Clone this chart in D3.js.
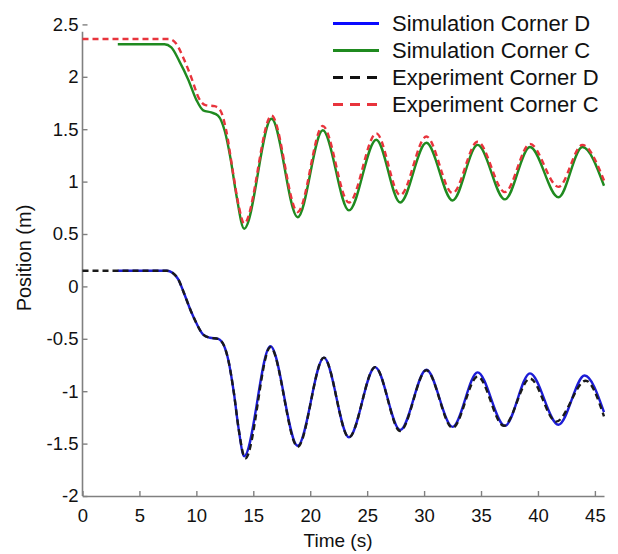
<!DOCTYPE html>
<html>
<head>
<meta charset="utf-8">
<script src="https://cdn.jsdelivr.net/npm/d3@7"></script>
<style>
  html, body { margin: 0; padding: 0; background: #fff; }
  svg { display: block; font-family: "Liberation Sans", Arial, sans-serif; }
</style>
</head>
<body>
<svg id="chart" width="618" height="554"></svg>
<script>
// Vertical position of two corners (C and D) over time: simulation vs experiment
const seriesNames = ["Simulation Corner D", "Simulation Corner C", "Experiment Corner D", "Experiment Corner C"];

// Simulation, corner D
const simDTime = [3.1, 7.4, 7.9, 8.4, 8.9, 9.5, 10.0, 10.6, 11.2, 11.9, 12.4, 12.8, 13.3, 13.7, 14.2,
                  16.5, 18.9, 21.2, 23.4, 25.7, 27.9, 30.2, 32.5, 34.7, 37.1, 39.3, 41.8, 44.1, 45.8];
const simDPos  = [0.15, 0.15, 0.13, 0.07, -0.06, -0.23, -0.35, -0.46, -0.49, -0.50, -0.56, -0.70, -1.02, -1.35, -1.62,
                  -0.57, -1.52, -0.68, -1.44, -0.77, -1.37, -0.795, -1.34, -0.82, -1.33, -0.83, -1.32, -0.85, -1.20];

// Simulation, corner C
const simCTime = [3.1, 7.2, 7.8, 8.5, 9.3, 10.0, 10.6, 11.3, 11.9, 12.5, 13.0, 13.5, 14.2,
                  16.6, 18.9, 21.1, 23.4, 25.8, 27.9, 30.2, 32.5, 34.7, 37.1, 39.3, 41.8, 43.9, 45.8];
const simCPos  = [2.31, 2.31, 2.28, 2.15, 1.97, 1.78, 1.68, 1.66, 1.63, 1.48, 1.22, 0.88, 0.55,
                  1.60, 0.66, 1.49, 0.725, 1.40, 0.80, 1.37, 0.82, 1.35, 0.83, 1.33, 0.85, 1.33, 0.96];

// Experiment, corner D
const expDTime = [0, 7.4, 7.9, 8.4, 8.9, 9.5, 10.0, 10.6, 11.2, 11.9, 12.4, 12.8, 13.3, 13.7, 14.3,
                  16.5, 18.9, 21.2, 23.4, 25.7, 27.9, 30.2, 32.5, 34.7, 37.0, 39.3, 41.6, 44.2, 45.8];
const expDPos  = [0.15, 0.15, 0.13, 0.07, -0.06, -0.23, -0.35, -0.46, -0.49, -0.50, -0.56, -0.70, -1.02, -1.35, -1.64,
                  -0.58, -1.53, -0.68, -1.44, -0.77, -1.38, -0.80, -1.35, -0.86, -1.33, -0.88, -1.29, -0.90, -1.24];

// Experiment, corner C
const expCTime = [0, 7.6, 8.2, 8.9, 9.6, 10.2, 10.8, 11.6, 12.1, 12.6, 13.2, 13.7, 14.2,
                  16.6, 18.9, 21.1, 23.4, 25.8, 27.9, 30.2, 32.5, 34.7, 37.1, 39.3, 41.8, 43.9, 45.8];
const expCPos  = [2.36, 2.36, 2.32, 2.17, 1.98, 1.80, 1.73, 1.72, 1.68, 1.50, 1.10, 0.78, 0.60,
                  1.63, 0.71, 1.53, 0.80, 1.46, 0.87, 1.43, 0.89, 1.38, 0.90, 1.36, 0.95, 1.35, 1.01];

const xTicks = [0, 5, 10, 15, 20, 25, 30, 35, 40, 45];
const yTicks = [-2, -1.5, -1, -0.5, 0, 0.5, 1, 1.5, 2, 2.5];

const svg = d3.select("#chart");

const x = d3.scaleLinear().domain([0, 45.8]).range([82.5, 604]);
const y = d3.scaleLinear().domain([-2, 2.5]).range([496, 24.4]);
const yTop = 2.43;

const axisColor = "#808080";

// x axis (ticks point inward)
const gx = svg.append("g")
  .attr("transform", `translate(0,${y(-2)})`)
  .call(d3.axisBottom(x).tickValues(xTicks).tickSize(-5).tickSizeOuter(0).tickPadding(13)
        .tickFormat(d3.format("d")));
gx.select(".domain").attr("stroke", axisColor).attr("stroke-width", 1.6);
gx.selectAll(".tick line").attr("stroke", axisColor).attr("stroke-width", 1.4);
gx.selectAll(".tick text").attr("font-size", 18.5).attr("fill", "#111");

// y axis (ticks point inward)
const gy = svg.append("g")
  .attr("transform", `translate(${x(0)},0)`)
  .call(d3.axisLeft(y).tickValues(yTicks).tickSize(-5).tickSizeOuter(0).tickPadding(4)
        .tickFormat(d => String(d)));
gy.select(".domain")
  .attr("d", `M0,${y(-2)}V${y(yTop)}`)
  .attr("stroke", axisColor).attr("stroke-width", 1.6);
gy.selectAll(".tick line").attr("stroke", axisColor).attr("stroke-width", 1.4);
gy.selectAll(".tick text").attr("font-size", 18.5).attr("fill", "#111");

// axis titles
svg.append("text")
  .attr("x", 338).attr("y", 547)
  .attr("text-anchor", "middle")
  .attr("font-size", 19).attr("fill", "#111")
  .text("Time (s)");

svg.append("text")
  .attr("transform", "translate(31,258) rotate(-90)")
  .attr("text-anchor", "middle")
  .attr("font-size", 20).attr("fill", "#111")
  .text("Position (m)");

// curves
const line = d3.line()
  .x(d => x(d[0]))
  .y(d => y(d[1]))
  .curve(d3.curveMonotoneX);

const series = [
  { name: seriesNames[0], t: simDTime, v: simDPos, color: "#1c1cd6", dash: null },
  { name: seriesNames[1], t: simCTime, v: simCPos, color: "#1f8a1f", dash: null },
  { name: seriesNames[2], t: expDTime, v: expDPos, color: "#1a1a1a", dash: "6,4" },
  { name: seriesNames[3], t: expCTime, v: expCPos, color: "#e8343c", dash: "6,4" }
];

series.forEach(s => {
  svg.append("path")
    .datum(d3.zip(s.t, s.v))
    .attr("fill", "none")
    .attr("stroke", s.color)
    .attr("stroke-width", 2.4)
    .attr("stroke-dasharray", s.dash)
    .attr("stroke-linejoin", "round")
    .attr("d", line);
});

// legend
const legendColors = ["#0a0aff", "#1f8a1f", "#111111", "#e8343c"];
const legend = svg.append("g");
series.forEach((s, i) => {
  const ly = 23.5 + i * 27;
  legend.append("line")
    .attr("x1", 333).attr("x2", 379)
    .attr("y1", ly).attr("y2", ly)
    .attr("stroke", legendColors[i])
    .attr("stroke-width", 3)
    .attr("stroke-dasharray", s.dash ? "10,7" : null);
  legend.append("text")
    .attr("x", 392).attr("y", ly)
    .attr("dy", "0.36em")
    .attr("font-size", 22).attr("fill", "#111")
    .text(s.name);
});
</script>
</body>
</html>
